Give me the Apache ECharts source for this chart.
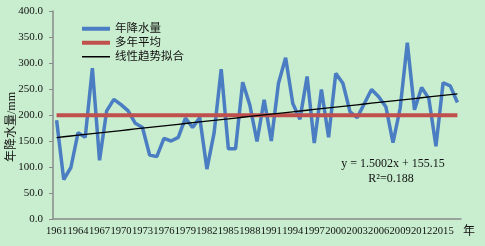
<!DOCTYPE html>
<html>
<head>
<meta charset="utf-8">
<title>年降水量</title>
<script src="https://cdn.jsdelivr.net/npm/echarts/dist/echarts.min.js"></script>
<style>
  html, body { margin: 0; padding: 0; background: #c9eecf; }
  #chart { width: 485px; height: 246px; }
</style>
</head>
<body>
<div id="chart"></div>
<script>
// 年份 1961-2017
var years = ['1961','1962','1963','1964','1965','1966','1967','1968','1969','1970',
  '1971','1972','1973','1974','1975','1976','1977','1978','1979','1980',
  '1981','1982','1983','1984','1985','1986','1987','1988','1989','1990',
  '1991','1992','1993','1994','1995','1996','1997','1998','1999','2000',
  '2001','2002','2003','2004','2005','2006','2007','2008','2009','2010',
  '2011','2012','2013','2014','2015','2016','2017'];

// 年降水量 (mm)
var precip = [190, 76, 99, 166, 157, 290, 113, 208, 230, 220,
  208, 184, 176, 123, 120, 155, 150, 157, 194, 176,
  195, 96, 165, 288, 135, 135, 263, 219, 149, 229,
  150, 261, 310, 222, 192, 274, 146, 249, 157, 280,
  261, 206, 195, 222, 249, 235, 216, 147, 213, 339,
  210, 253, 232, 140, 262, 256, 224];

// 多年平均
var avgPrecip = 199.4;

// 线性趋势 y = 1.5002x + 155.15
var slope = 1.5002;
var intercept = 155.15;

var serif = '"Liberation Serif", "Times New Roman", serif';
var cjk = '"Liberation Serif", "Noto Sans CJK SC", serif';

var avgLine = years.map(function () { return avgPrecip; });
var trendLine = years.map(function (y, i) {
  return +(slope * (i + 1) + intercept).toFixed(2);
});

var myChart = echarts.init(document.getElementById('chart'));
var option = {
  backgroundColor: '#c9eecf',
  animation: false,
  grid: {
    left: 53,
    right: 24,
    top: 11,
    bottom: 27
  },
  legend: {
    orient: 'vertical',
    left: 75,
    top: 18,
    itemWidth: 28,
    itemHeight: 12,
    itemGap: 2.5,
    itemStyle: { opacity: 0 },
    textStyle: { fontFamily: cjk, fontSize: 11.5, color: '#111' },
    data: [
      { name: '年降水量', lineStyle: { width: 4 } },
      { name: '多年平均', lineStyle: { width: 4 } },
      { name: '线性趋势拟合', lineStyle: { width: 1.5 } }
    ]
  },
  xAxis: {
    type: 'category',
    data: years,
    boundaryGap: true,
    name: '年',
    nameLocation: 'end',
    nameGap: 2,
    nameTextStyle: {
      fontFamily: cjk, fontSize: 12, color: '#111',
      align: 'left', verticalAlign: 'top', padding: [7, 0, 0, 0]
    },
    axisLine: { lineStyle: { color: '#8a8a8a', width: 1.5 } },
    axisTick: { interval: 2, length: 4, lineStyle: { color: '#8a8a8a' } },
    axisLabel: {
      interval: 2,
      showMinLabel: true,
      hideOverlap: false,
      margin: 7,
      fontFamily: serif,
      fontSize: 10.6,
      color: '#111'
    },
    splitLine: { show: false }
  },
  yAxis: {
    type: 'value',
    min: 0,
    max: 400,
    interval: 50,
    axisLine: { show: true, lineStyle: { color: '#8a8a8a', width: 1.5 } },
    axisTick: { show: true, length: 4, lineStyle: { color: '#8a8a8a' } },
    axisLabel: {
      margin: 10,
      fontFamily: serif,
      fontSize: 11,
      color: '#111',
      formatter: function (v) { return v.toFixed(1); }
    },
    splitLine: { show: false }
  },
  graphic: [
    {
      type: 'text',
      x: 12,
      y: 127,
      rotation: Math.PI / 2,
      style: {
        text: '年降水量/mm',
        font: '12px "Liberation Serif", "Noto Sans CJK SC", serif',
        fill: '#111',
        align: 'center',
        verticalAlign: 'middle'
      }
    },
    {
      type: 'text',
      x: 393,
      y: 164,
      style: {
        text: 'y = 1.5002x + 155.15',
        font: '12px "Liberation Serif", serif',
        fill: '#111',
        align: 'center',
        verticalAlign: 'middle'
      }
    },
    {
      type: 'text',
      x: 391,
      y: 179,
      style: {
        text: 'R²=0.188',
        font: '12px "Liberation Serif", serif',
        fill: '#111',
        align: 'center',
        verticalAlign: 'middle'
      }
    }
  ],
  series: [
    {
      name: '年降水量',
      type: 'line',
      data: precip,
      symbol: 'none',
      itemStyle: { color: '#4a7dc2' },
      lineStyle: { color: '#4a7dc2', width: 3.5 }
    },
    {
      name: '多年平均',
      type: 'line',
      data: avgLine,
      symbol: 'none',
      itemStyle: { color: '#c0504d' },
      lineStyle: { color: '#c0504d', width: 4 }
    },
    {
      name: '线性趋势拟合',
      type: 'line',
      data: trendLine,
      symbol: 'none',
      itemStyle: { color: '#000' },
      lineStyle: { color: '#000', width: 1.3 }
    }
  ]
};
myChart.setOption(option);
</script>
</body>
</html>
